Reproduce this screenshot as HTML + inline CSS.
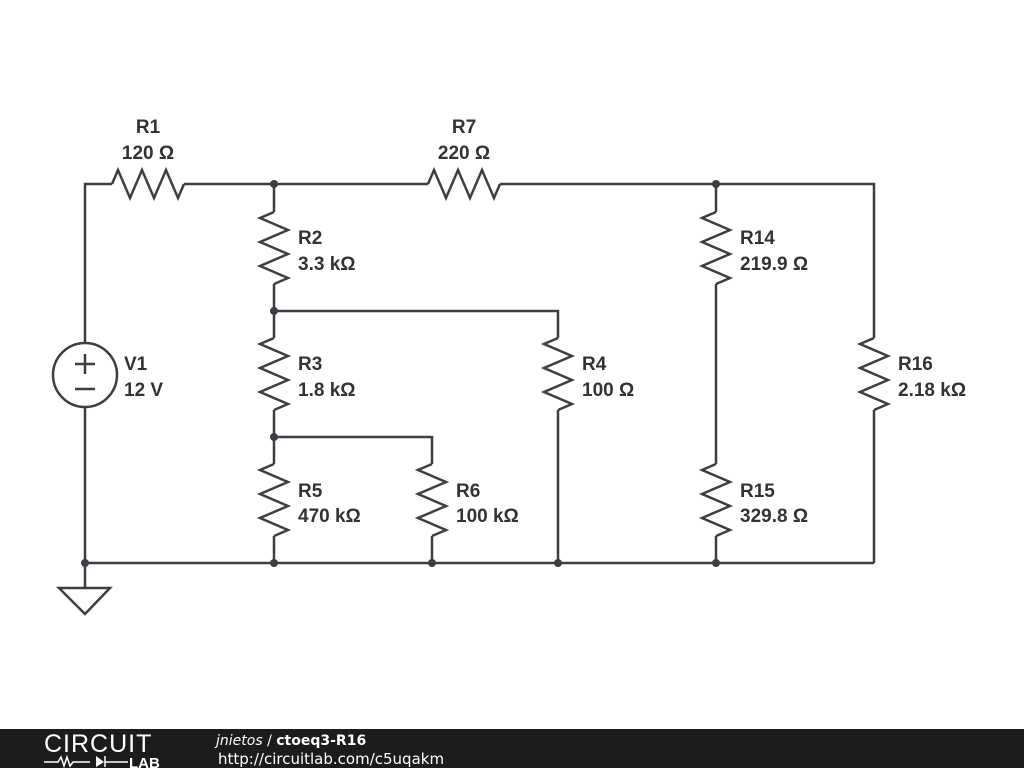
<!DOCTYPE html>
<html><head><meta charset="utf-8"><style>
html,body{margin:0;padding:0;background:#fff;width:1024px;height:768px;overflow:hidden}
text{font-family:"Liberation Sans",sans-serif;font-weight:bold;font-size:19px;fill:#333}
</style></head><body>
<svg width="1024" height="768" viewBox="0 0 1024 768" xmlns="http://www.w3.org/2000/svg">
<g stroke="#3a3f44" stroke-width="2.5" fill="none" stroke-linejoin="miter">
<polyline points="85,343 85,184 112,184"/>
<line x1="184" y1="184" x2="428" y2="184"/>
<polyline points="500,184 874,184 874,338"/>
<line x1="874" y1="410" x2="874" y2="563"/>
<polyline points="112,184 118,170 130,198 142,170 154,198 166,170 178,198 184,184"/>
<polyline points="428,184 434,170 446,198 458,170 470,198 482,170 494,198 500,184"/>
<g id="vr"><polyline points="274,212 260,218 288,230 260,242 288,254 260,266 288,278 274,284"/></g>
<use href="#vr" y="126"/>
<use href="#vr" y="252"/>
<use href="#vr" x="158" y="252"/>
<use href="#vr" x="284" y="126"/>
<use href="#vr" x="442"/>
<use href="#vr" x="442" y="252"/>
<use href="#vr" x="600" y="126"/>
<line x1="274" y1="184" x2="274" y2="212"/>
<line x1="274" y1="284" x2="274" y2="338"/>
<line x1="274" y1="410" x2="274" y2="464"/>
<line x1="274" y1="536" x2="274" y2="563"/>
<polyline points="274,311 558,311 558,338"/>
<line x1="558" y1="410" x2="558" y2="563"/>
<polyline points="274,437 432,437 432,464"/>
<line x1="432" y1="536" x2="432" y2="563"/>
<line x1="716" y1="184" x2="716" y2="212"/>
<line x1="716" y1="284" x2="716" y2="464"/>
<line x1="716" y1="536" x2="716" y2="563"/>
<line x1="85" y1="563" x2="874" y2="563"/>
<line x1="85" y1="407" x2="85" y2="588"/>
<circle cx="85" cy="375" r="32"/>
<line x1="75" y1="364" x2="95" y2="364"/>
<line x1="85" y1="354" x2="85" y2="374"/>
<line x1="75" y1="389" x2="95" y2="389"/>
<polygon points="59,588 110,588 85,614"/>
</g>
<g fill="#3a3f44">
<circle cx="274" cy="184" r="4"/><circle cx="716" cy="184" r="4"/>
<circle cx="274" cy="311" r="4"/><circle cx="274" cy="437" r="4"/>
<circle cx="85" cy="563" r="4"/><circle cx="274" cy="563" r="4"/>
<circle cx="432" cy="563" r="4"/><circle cx="558" cy="563" r="4"/>
<circle cx="716" cy="563" r="4"/>
</g>
<text x="148" y="133" text-anchor="middle">R1</text>
<text x="148" y="159" text-anchor="middle">120 Ω</text>
<text x="464" y="133" text-anchor="middle">R7</text>
<text x="464" y="159" text-anchor="middle">220 Ω</text>
<text x="298" y="244">R2</text><text x="298" y="270">3.3 kΩ</text>
<text x="298" y="370">R3</text><text x="298" y="396">1.8 kΩ</text>
<text x="298" y="497">R5</text><text x="298" y="522">470 kΩ</text>
<text x="456" y="497">R6</text><text x="456" y="522">100 kΩ</text>
<text x="582" y="370">R4</text><text x="582" y="396">100 Ω</text>
<text x="740" y="244">R14</text><text x="740" y="270">219.9 Ω</text>
<text x="740" y="497">R15</text><text x="740" y="522">329.8 Ω</text>
<text x="898" y="370">R16</text><text x="898" y="396">2.18 kΩ</text>
<text x="124" y="370">V1</text><text x="124" y="396">12 V</text>
<rect x="0" y="729" width="1024" height="39" fill="#1c1c1c"/>
<text x="44" y="752" style="font-weight:normal;font-size:25px;fill:#fff;letter-spacing:1px">CIRCUIT</text>
<polyline points="44,762 58,762 61,757 64,766 67,757 70,766 73,762 90,762" stroke="#fff" stroke-width="1.5" fill="none"/>
<polygon points="96,756 96,767 104,762" fill="#fff"/>
<line x1="105" y1="756" x2="105" y2="767" stroke="#fff" stroke-width="1.5"/>
<line x1="105" y1="762" x2="128" y2="762" stroke="#fff" stroke-width="1.5"/>
<text x="129" y="768" style="font-size:15px;fill:#fff">LAB</text>
<text x="216" y="745" style="font-family:'DejaVu Sans',sans-serif;font-weight:normal;font-style:italic;font-size:14px;fill:#fff">jnietos <tspan font-style="normal">/</tspan> <tspan font-style="normal" font-weight="bold">ctoeq3-R16</tspan></text>
<text x="218" y="764" style="font-family:'DejaVu Sans',sans-serif;font-weight:normal;font-size:15px;fill:#fff">http://circuitlab.com/c5uqakm</text>
</svg>
</body></html>
